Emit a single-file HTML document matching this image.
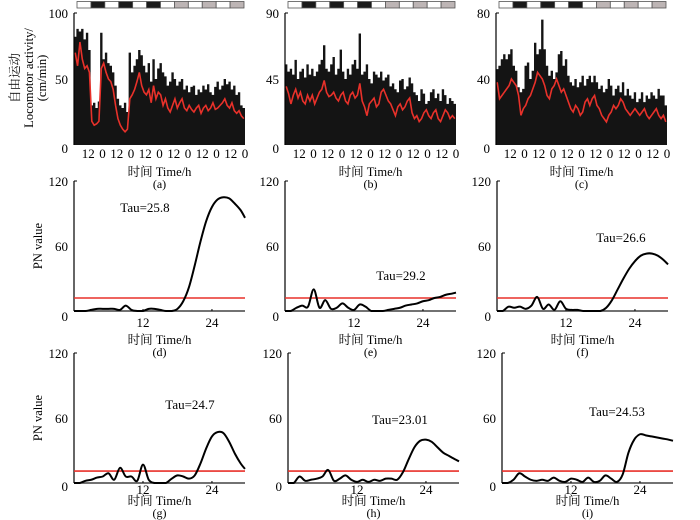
<!DOCTYPE html>
<html><head><meta charset="utf-8">
<style>
html,body{margin:0;padding:0;background:#fff;}
svg{display:block;font-family:"Liberation Serif","Noto Serif CJK SC",serif;}
</style></head>
<body>
<svg id="fig" width="700" height="520" viewBox="0 0 700 520" xmlns="http://www.w3.org/2000/svg"></svg>
<script>
// ---- Activity data (2h bins, 0-144h) ----
const hoursTicks = ["12","0","12","0","12","0","12","0","12","0","12","0"];
const lightPattern = ["w","b","w","b","w","b","w","g","w","g","w","g"];
const aMax = [82,88,86,88,80, 85,72,30,32,28, 33,85,65,70,62, 60,55,45,35,30, 28,32,25,70,55, 60,65,72,68,60, 55,62,48,65,50, 58,62,55,52,45, 48,55,50,45,48, 50,42,45,40,44, 45,38,42,40,45, 42,46,40,38,44, 48,42,45,50,46, 48,42,45,38,40, 30,28];
const aMean = [70,60,78,65,58, 60,55,18,15,16, 18,58,62,55,50, 48,42,30,20,15, 12,10,12,35,38, 42,48,55,45,40, 38,42,32,45,35, 40,38,30,35,28, 25,30,35,28,32, 35,28,26,30,27, 25,28,30,24,28, 30,26,28,32,27, 28,30,32,35,30, 28,32,26,24,26, 22,20];
const bMax = [55,50,52,48,58, 45,50,52,46,55, 48,52,47,50,55, 58,68,52,50,55, 60,48,52,65,50, 45,52,48,55,58, 52,76,48,50,55, 45,42,50,48,46, 50,44,46,48,40, 42,38,36,44,45, 38,40,46,42,36, 34,30,38,35,28, 30,36,38,32,35, 30,38,34,28,32, 30,28];
const bMean = [40,35,28,34,38, 32,36,30,28,34, 30,34,28,32,36, 38,44,36,33,34, 36,32,30,34,36, 30,28,34,36,32, 34,42,30,26,20, 28,30,32,26,28, 36,38,34,30,28, 24,20,26,28,24, 26,30,32,22,18, 20,16,18,22,24, 20,18,22,24,18, 16,20,24,22,18, 20,18];
const cMax = [46,48,52,55,52, 55,58,48,45,35, 32,34,48,50,40, 45,62,55,58,76, 58,48,42,45,40, 44,55,57,48,52, 42,38,36,40,35, 38,42,36,40,42, 38,42,38,34,36, 32,34,40,36,30, 34,36,32,38,30, 34,30,28,32,26, 28,32,26,30,28, 32,30,28,34,30, 30,24];
const cMean = [38,28,30,32,34, 36,40,38,36,30, 18,22,24,28,30, 34,38,44,42,40, 36,30,28,34,36, 40,36,32,34,30, 26,22,20,24,22, 18,20,26,28,24, 28,30,24,22,18, 16,14,18,20,24, 22,24,28,26,22, 20,18,20,22,20, 18,20,22,18,16, 18,20,22,18,16, 18,14];
const actYMax = [100,90,80];
const actYTicks = [["0","50","100"],["0","45","90"],["0","40","80"]];

// ---- PN periodogram data (1h steps, 0-30h) ----
const pnA = [0,0,0,1,2,2,2,2,1,5,1,0,0,2,2,1,0,0,2,9,22,42,64,83,96,103,105,104,99,93,86];
const pnB = [0,0,3,5,4,20,3,10,2,3,7,3,1,6,4,0,0,0,1,2,3,5,6,7,9,10,12,13,15,16,17];
const pnC = [0,0,4,3,4,2,5,13,2,6,1,9,2,1,1,0,0,0,0,3,10,20,30,39,46,51,53,53,51,47,43];
const pnD = [0,0,2,3,5,6,9,3,14,6,6,2,17,3,0,0,0,4,7,6,4,7,18,32,43,47,46,38,27,18,13];
const pnE = [0,0,6,2,3,4,6,12,2,4,7,3,1,3,1,3,2,4,4,3,10,22,33,39,40,38,33,28,25,22,20];
const pnF = [0,0,3,9,6,3,2,3,2,5,2,1,4,3,1,5,1,2,7,4,1,8,28,40,45,44,43,42,41,40,39];
const pnThreshold = [12,12,12,11,11,11];
const pnTau = ["Tau=25.8","Tau=29.2","Tau=26.6","Tau=24.7","Tau=23.01","Tau=24.53"];
const pnXTicks = [12,24];
const pnYTicks = [0,60,120];

const NS="http://www.w3.org/2000/svg";
const svg=document.getElementById('fig');
function mk(tag,attrs,parent){const e=document.createElementNS(NS,tag);for(const k in attrs)e.setAttribute(k,attrs[k]);(parent||svg).appendChild(e);return e;}
function txt(s,x,y,attrs,parent){const t=mk('text',Object.assign({x:x,y:y,'font-size':13,fill:'#000'},attrs||{}),parent);t.textContent=s;return t;}

const W=171;
// ---- Activity panels ----
const actX0=[74,285,496];
const actMaxS=[aMax,bMax,cMax], actMeanS=[aMean,bMean,cMean];
const actLetters=["(a)","(b)","(c)"];
for(let p=0;p<3;p++){
  const g=mk('g',{});
  
  
  const x0=actX0[p], yT=13, yB=145, ymax=actYMax[p];
  const sx=h=>x0+h/144*W, sy=v=>yB-v/ymax*(yB-yT);
  const lb=mk('g',{},g);
  
  
  const segW=(W-4)/12;
  for(let i=0;i<12;i++){
    const c=lightPattern[i]=='w'?'#fff':lightPattern[i]=='b'?'#1a1a1a':'#bdb5b5';
    const r=mk('rect',{x:x0+3+i*segW,y:1.5,width:segW,height:6.5,fill:c,stroke:'#555','stroke-width':0.8},lb);
    
    
  }
  const mx=actMaxS[p]; const n=mx.length; const bw=144/n;
  let d='M'+sx(0)+','+yB;
  for(let i=0;i<n;i++){d+=' L'+sx(i*bw)+','+sy(mx[i])+' L'+sx((i+1)*bw)+','+sy(mx[i]);}
  d+=' L'+sx(144)+','+yB+' Z';
  const area=mk('path',{d:d,fill:'#141414'},g);
  
  
  const mn=actMeanS[p];
  let d2='';
  for(let i=0;i<mn.length;i++){d2+=(i?' L':'M')+sx((i+0.5)*bw)+','+sy(mn[i]);}
  const rl=mk('path',{d:d2,fill:'none',stroke:'#e8312a','stroke-width':1.6},g);
  
  
  const ax=mk('line',{x1:x0,y1:yT,x2:x0,y2:yB,stroke:'#000','stroke-width':1.2},g);
  
  
  mk('line',{x1:x0,y1:yT,x2:x0+3,y2:yT,stroke:'#000'},g);
  const yt=actYTicks[p];
  for(let i=0;i<3;i++){
    const t=txt(yt[i],x0-6,sy(ymax*i/2)+(i==0?8:5),{'text-anchor':'end','font-size':13},g);
    
    
  }
  for(let i=0;i<12;i++){
    const t=txt(hoursTicks[i],sx((i+1)*12),158,{'text-anchor':'middle','font-size':13},g);
    
    
  }
  const xl=txt('时间 Time/h',x0+W/2,176,{'text-anchor':'middle','font-size':12.5},g);
  
  
  const pl=txt(actLetters[p],x0+W/2,188,{'text-anchor':'middle','font-size':12},g);
  
  
}
const ylab=mk('g',{transform:'translate(0,78) rotate(-90)'});


txt('自由运动',0,19,{'text-anchor':'middle','font-size':12.5},ylab);
txt('Locomotor activity/',0,33,{'text-anchor':'middle','font-size':12.5},ylab);
txt('(cm/min)',0,46,{'text-anchor':'middle','font-size':12.5},ylab);

// ---- PN panels ----
const pnSeries=[pnA,pnB,pnC,pnD,pnE,pnF];
const pnX0=[74,285,497,74,288,502];
const pnYT=[181,181,181,353,353,353], pnYB=[311,311,311,483,483,483];
const pnLetters=["(d)","(e)","(f)","(g)","(h)","(i)"];
const tauPos=[[145,212],[401,280],[621,242],[190,409],[400,424],[617,416]];
const HMAX=29.75;
for(let p=0;p<6;p++){
  const g=mk('g',{});
  
  
  const x0=pnX0[p], yT=pnYT[p], yB=pnYB[p];
  const bottom=p>=3;
  const sx=h=>x0+h/HMAX*W, sy=v=>yB-v/120*(yB-yT);
  const ya=mk('line',{x1:x0,y1:yT,x2:x0,y2:yB,stroke:'#000','stroke-width':1.2},g);
  
  
  mk('line',{x1:x0,y1:yT,x2:x0+3,y2:yT,stroke:'#000'},g);
  const xa=mk('line',{x1:x0,y1:yB,x2:x0+W,y2:yB,stroke:'#444','stroke-width':1.6},g);
  
  
  for(const v of pnYTicks){
    const t=txt(String(v),x0-6,sy(v)+(v==0?(bottom?8:10):5),{'text-anchor':'end','font-size':13},g);
    
    
  }
  for(const h of pnXTicks){
    mk('line',{x1:sx(h),y1:yB,x2:sx(h),y2:yB-2,stroke:'#000'},g);
    const t=txt(String(h),sx(h),yB+(bottom?11:16),{'text-anchor':'middle','font-size':13},g);
    
    
  }
  const th=mk('line',{x1:x0,y1:sy(pnThreshold[p]),x2:x0+W,y2:sy(pnThreshold[p]),stroke:'#e8312a','stroke-width':1.6},g);
  
  
  const s=pnSeries[p]; const pts=[];
  for(let i=0;i<s.length;i++){const h=Math.min(i,HMAX);pts.push([sx(h),sy(s[i])]);}
  let d='M'+pts[0][0]+','+pts[0][1];
  for(let i=0;i<pts.length-1;i++){
    const p0=pts[Math.max(i-1,0)],p1=pts[i],p2=pts[i+1],p3=pts[Math.min(i+2,pts.length-1)];
    const c1=[p1[0]+(p2[0]-p0[0])/6,Math.min(yB,p1[1]+(p2[1]-p0[1])/6)];
    const c2=[p2[0]-(p3[0]-p1[0])/6,Math.min(yB,p2[1]-(p3[1]-p1[1])/6)];
    d+=' C'+c1[0]+','+c1[1]+' '+c2[0]+','+c2[1]+' '+p2[0]+','+p2[1];
  }
  const cv=mk('path',{d:d,fill:'none',stroke:'#000','stroke-width':2},g);
  
  
  const tl=txt(pnTau[p],tauPos[p][0],tauPos[p][1],{'text-anchor':'middle','font-size':13},g);
  
  
  const xl=txt('时间 Time/h',x0+W/2,yB+(bottom?22:33),{'text-anchor':'middle','font-size':12.5},g);
  
  
  const pl=txt(pnLetters[p],x0+W/2,yB+(bottom?34:45),{'text-anchor':'middle','font-size':12},g);
  
  
}
for(const cy of [246,418]){
  const t=txt('PN value',0,0,{'text-anchor':'middle','font-size':12.5,transform:'translate(42,'+cy+') rotate(-90)'});
  
  
}
</script>
</body></html>
